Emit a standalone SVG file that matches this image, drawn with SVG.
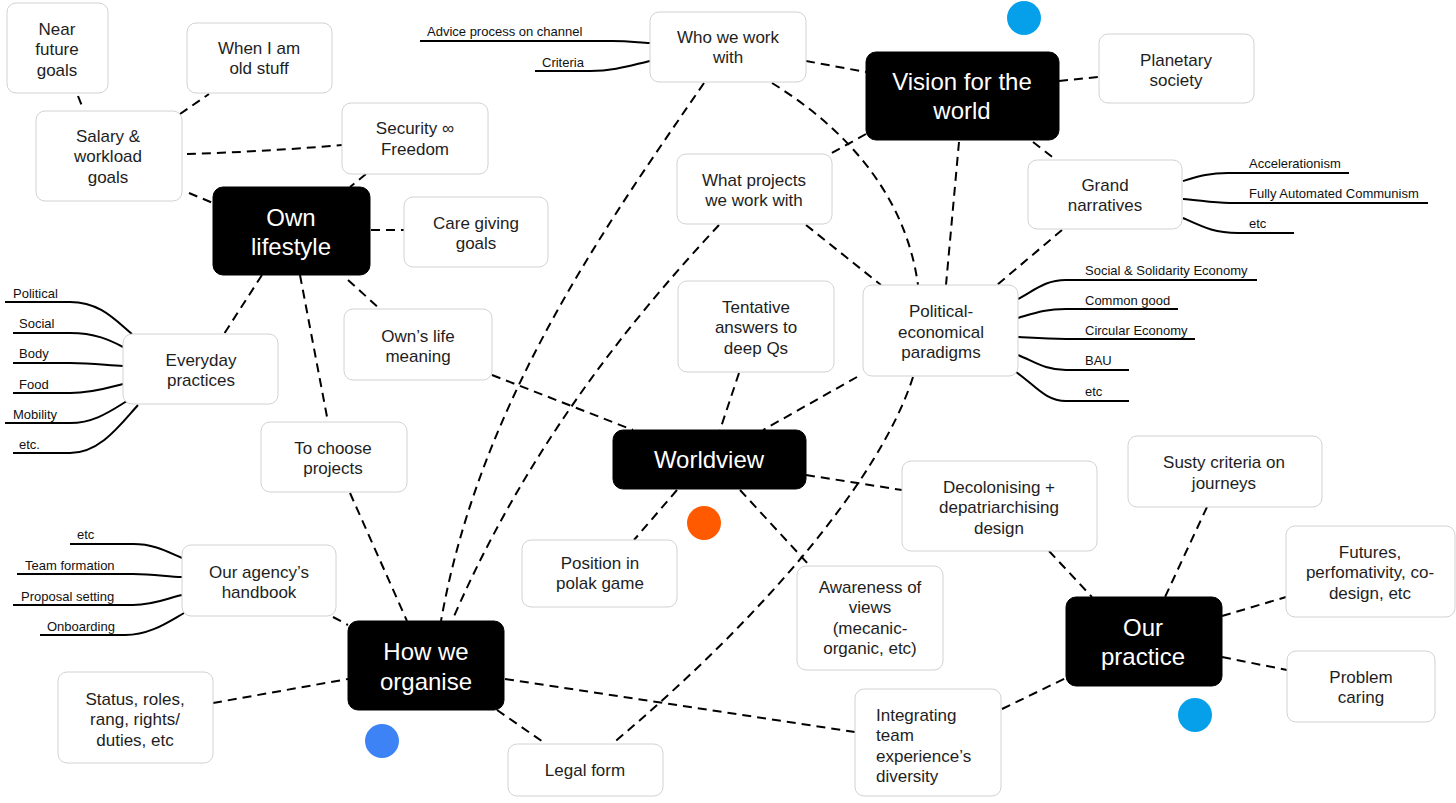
<svg xmlns="http://www.w3.org/2000/svg" width="1456" height="803" viewBox="0 0 1456 803">
<style>
.n rect{fill:#fff;stroke:#d2d2d2;stroke-width:1}
.k rect{fill:#000;stroke:#000;stroke-width:1}
text{font-family:"Liberation Sans",Arial,Helvetica,sans-serif}
.n text{font-size:17px;fill:#1e1e1e;text-anchor:middle}
.k text{font-size:24px;fill:#fff;text-anchor:middle}
.lbl{font-size:13px;fill:#111}
.c path{fill:none;stroke:#000;stroke-width:2;stroke-dasharray:9 6}
.lf path{fill:none;stroke:#000;stroke-width:2}
</style>
<rect width="1456" height="803" fill="#fff"/>
<g id="connectors" class="c">
<path d="M78,96 L82,106"/>
<path d="M180,114 L209,94"/>
<path d="M187,154 Q260,152 342,145"/>
<path d="M189,193 L213,203"/>
<path d="M366,174 L350,187"/>
<path d="M371,230 L404,230"/>
<path d="M262,275 L224,334"/>
<path d="M300,275 L328,422"/>
<path d="M348,280 L380,309"/>
<path d="M492,375 L633,430"/>
<path d="M350,493 L407,621"/>
<path d="M704,83 C610,220 480,400 441,621"/>
<path d="M719,225 C640,310 530,440 452,621"/>
<path d="M806,61 L866,72"/>
<path d="M772,83 C840,125 905,190 918,285"/>
<path d="M866,134 L830,154"/>
<path d="M1059,81 L1099,77"/>
<path d="M1033,142 L1055,159"/>
<path d="M959,142 L946,285"/>
<path d="M1062,230 L997,285"/>
<path d="M806,225 L881,285"/>
<path d="M857,377 L763,430"/>
<path d="M739,373 L720,430"/>
<path d="M913,377 C880,480 760,620 612,744"/>
<path d="M806,475 L902,490"/>
<path d="M677,490 L634,540"/>
<path d="M740,490 L810,566"/>
<path d="M333,617 L348,625"/>
<path d="M213,703 L348,679"/>
<path d="M497,710 L546,744"/>
<path d="M505,679 L855,732"/>
<path d="M1002,709 L1066,678"/>
<path d="M1049,551 L1092,597"/>
<path d="M1207,507 L1165,597"/>
<path d="M1222,616 L1286,597"/>
<path d="M1222,657 L1287,670"/>
</g>
<g id="leaves" class="lf">
<path d="M420,41 L612,41 C632,41 640,43 650,43"/>
<path d="M535,71 L590,71 C615,71 632,65 650,61"/>
<path d="M1183,181 C1200,176 1210,173 1228,173 L1349,173"/>
<path d="M1183,199 C1200,200 1210,203 1230,203 L1428,203"/>
<path d="M1183,218 C1205,228 1215,233 1238,233 L1294,233"/>
<path d="M1018,299 C1035,290 1045,280 1066,280 L1257,280"/>
<path d="M1018,318 C1035,313 1045,309 1066,309 L1178,309"/>
<path d="M1018,337 C1035,338 1045,339 1066,339 L1195,339"/>
<path d="M1018,355 C1035,362 1045,370 1066,370 L1129,370"/>
<path d="M1016,372 C1035,385 1045,401 1066,401 L1129,401"/>
<path d="M5,302 L70,302 C100,302 115,320 132,334"/>
<path d="M13,333 L70,333 C95,333 110,340 123,347"/>
<path d="M13,363 L70,363 C95,363 110,366 123,366"/>
<path d="M13,393 L70,393 C95,393 110,387 123,384"/>
<path d="M5,423 L70,423 C95,423 112,410 127,401"/>
<path d="M13,453 L70,453 C100,453 120,425 138,405"/>
<path d="M70,544 L133,544 C155,544 168,552 182,558"/>
<path d="M17,574 L133,574 C155,574 168,577 182,577"/>
<path d="M13,605 L133,605 C155,605 168,598 182,595"/>
<path d="M40,635 L125,635 C150,635 168,622 184,613"/>
</g>
<g id="leaf-labels" class="lbl">
<text x="427" y="36">Advice process on channel</text>
<text x="542" y="67">Criteria</text>
<text x="1249" y="168">Accelerationism</text>
<text x="1249" y="198">Fully Automated Communism</text>
<text x="1249" y="228">etc</text>
<text x="1085" y="275">Social &amp; Solidarity Economy</text>
<text x="1085" y="305">Common good</text>
<text x="1085" y="335">Circular Economy</text>
<text x="1085" y="365">BAU</text>
<text x="1085" y="396">etc</text>
<text x="13" y="298">Political</text>
<text x="19" y="328">Social</text>
<text x="19" y="358">Body</text>
<text x="19" y="389">Food</text>
<text x="13" y="419">Mobility</text>
<text x="19" y="449">etc.</text>
<text x="77" y="539">etc</text>
<text x="25" y="570">Team formation</text>
<text x="21" y="601">Proposal setting</text>
<text x="47" y="631">Onboarding</text>
</g>
<g id="near-future-goals" class="n"><rect x="7" y="3" width="101" height="90" rx="9"/><text x="57" y="35">Near</text><text x="57" y="55">future</text><text x="57" y="76">goals</text></g>
<g id="when-old" class="n"><rect x="187" y="23" width="145" height="70" rx="9"/><text x="259" y="54">When I am</text><text x="259" y="74">old stuff</text></g>
<g id="salary" class="n"><rect x="36" y="111" width="146" height="90" rx="9"/><text x="108" y="142">Salary &amp;</text><text x="108" y="162">workload</text><text x="108" y="183">goals</text></g>
<g id="security" class="n"><rect x="342" y="103" width="146" height="71" rx="9"/><text x="415" y="134">Security ∞</text><text x="415" y="155">Freedom</text></g>
<g id="own-lifestyle" class="k"><rect x="213" y="187" width="157" height="88" rx="10"/><text x="291" y="226">Own</text><text x="291" y="255">lifestyle</text></g>
<g id="care-giving" class="n"><rect x="404" y="197" width="144" height="70" rx="9"/><text x="476" y="229">Care giving</text><text x="476" y="249">goals</text></g>
<g id="who-we-work-with" class="n"><rect x="650" y="12" width="156" height="70" rx="9"/><text x="728" y="43">Who we work</text><text x="728" y="63">with</text></g>
<g id="vision" class="k"><rect x="866" y="52" width="193" height="88" rx="10"/><text x="962" y="90">Vision for the</text><text x="962" y="119">world</text></g>
<g id="planetary" class="n"><rect x="1099" y="34" width="155" height="69" rx="9"/><text x="1176" y="66">Planetary</text><text x="1176" y="86">society</text></g>
<g id="grand-narratives" class="n"><rect x="1028" y="160" width="154" height="69" rx="9"/><text x="1105" y="191">Grand</text><text x="1105" y="211">narratives</text></g>
<g id="what-projects" class="n"><rect x="677" y="154" width="155" height="70" rx="9"/><text x="754" y="186">What projects</text><text x="754" y="206">we work with</text></g>
<g id="political-economical" class="n"><rect x="863" y="285" width="155" height="91" rx="9"/><text x="941" y="317">Political-</text><text x="941" y="338">economical</text><text x="941" y="358">paradigms</text></g>
<g id="tentative" class="n"><rect x="678" y="281" width="156" height="91" rx="9"/><text x="756" y="313">Tentative</text><text x="756" y="333">answers to</text><text x="756" y="354">deep Qs</text></g>
<g id="owns-life" class="n"><rect x="344" y="309" width="148" height="71" rx="9"/><text x="418" y="342">Own’s life</text><text x="418" y="362">meaning</text></g>
<g id="everyday" class="n"><rect x="123" y="334" width="155" height="70" rx="9"/><text x="201" y="366">Everyday</text><text x="201" y="386">practices</text></g>
<g id="to-choose" class="n"><rect x="261" y="422" width="146" height="70" rx="9"/><text x="333" y="454">To choose</text><text x="333" y="474">projects</text></g>
<g id="worldview" class="k"><rect x="613" y="430" width="193" height="59" rx="10"/><text x="709" y="468">Worldview</text></g>
<g id="decolonising" class="n"><rect x="902" y="461" width="195" height="90" rx="9"/><text x="999" y="493">Decolonising +</text><text x="999" y="513">depatriarchising</text><text x="999" y="534">design</text></g>
<g id="susty" class="n"><rect x="1128" y="436" width="194" height="71" rx="9"/><text x="1224" y="468">Susty criteria on</text><text x="1224" y="489">journeys</text></g>
<g id="futures" class="n"><rect x="1286" y="526" width="169" height="91" rx="9"/><text x="1370" y="558">Futures,</text><text x="1370" y="578">perfomativity, co-</text><text x="1370" y="599">design, etc</text></g>
<g id="our-practice" class="k"><rect x="1066" y="597" width="156" height="89" rx="10"/><text x="1143" y="636">Our</text><text x="1143" y="665">practice</text></g>
<g id="problem-caring" class="n"><rect x="1287" y="651" width="148" height="71" rx="9"/><text x="1361" y="683">Problem</text><text x="1361" y="703">caring</text></g>
<g id="position" class="n"><rect x="522" y="540" width="155" height="67" rx="9"/><text x="600" y="569">Position in</text><text x="600" y="589">polak game</text></g>
<g id="awareness" class="n"><rect x="797" y="566" width="146" height="104" rx="9"/><text x="870" y="593">Awareness of</text><text x="870" y="613">views</text><text x="870" y="634">(mecanic-</text><text x="870" y="654">organic, etc)</text></g>
<g id="handbook" class="n"><rect x="182" y="545" width="154" height="71" rx="9"/><text x="259" y="578">Our agency’s</text><text x="259" y="598">handbook</text></g>
<g id="how-we-organise" class="k"><rect x="348" y="621" width="156" height="89" rx="10"/><text x="426" y="660">How we</text><text x="426" y="690">organise</text></g>
<g id="status" class="n"><rect x="58" y="672" width="155" height="91" rx="9"/><text x="135" y="705">Status, roles,</text><text x="135" y="725">rang, rights/</text><text x="135" y="746">duties, etc</text></g>
<g id="legal-form" class="n"><rect x="508" y="744" width="155" height="52" rx="9"/><text x="585" y="776">Legal form</text></g>
<g id="integrating" class="n"><rect x="855" y="689" width="146" height="107" rx="9"/><text x="876" y="721" style="text-anchor:start">Integrating</text><text x="876" y="741" style="text-anchor:start">team</text><text x="876" y="762" style="text-anchor:start">experience’s</text><text x="876" y="782" style="text-anchor:start">diversity</text></g>
<g id="dots">
<circle cx="1024" cy="18" r="17" fill="#06A0EA"/>
<circle cx="704" cy="523" r="17" fill="#FF5A00"/>
<circle cx="382" cy="741" r="17" fill="#3D83F6"/>
<circle cx="1195" cy="715" r="17" fill="#06A0EA"/>
</g>
</svg>
